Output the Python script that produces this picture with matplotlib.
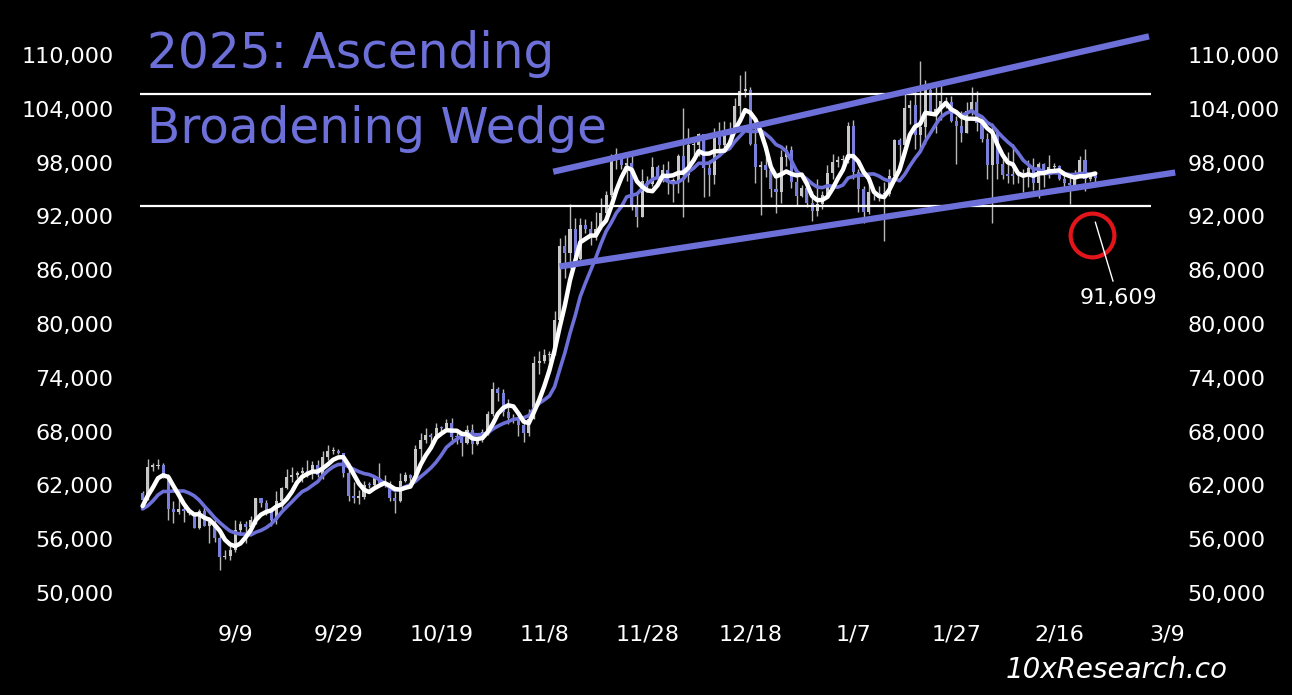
import matplotlib
matplotlib.use('Agg')
import matplotlib.pyplot as plt
import matplotlib.dates as mdates
import numpy as np
import pandas as pd

# daily closes before the first drawn candle (only used to warm up the averages)
warmup_close = [60610, 58740, 57560, 58880, 59490, 58430, 59490, 59010, 61160]

# drawn candles, 2024-08-22 .. 2025-02-23
aug_close = [60380, 64090, 64160, 64220, 62830, 59420, 59020, 59390, 59120, 58970]
sep_close = [57300, 59120, 57480, 57970, 56160, 53960, 54140, 54840, 57020, 57650,
             57340, 58130, 60570, 60000, 59180, 58190, 60310, 61760, 62950, 63200,
             63350, 63580, 63340, 64260, 63150, 65180, 65790, 65890, 65600, 63330]
oct_close = [60800, 60630, 60750, 62090, 62060, 62820, 62220, 62130, 60580, 60270,
             62450, 63190, 62850, 66080, 67040, 67610, 67400, 68420, 68360, 69000,
             67370, 67360, 66680, 68160, 66640, 67010, 67930, 69910, 72720, 72340, 70210]
nov_close = [69480, 69330, 68740, 67810, 69360, 75640, 75900, 76550, 76680, 80470,
             88700, 87960, 90580, 87250, 91070, 90610, 89840, 90540, 92340, 94340,
             98370, 98920, 97750, 97920, 93010, 91960, 95950, 95650, 97460, 96400]
dec_close = [97190, 95860, 96000, 98770, 96590, 99920, 99920, 101170, 97360, 96660,
             101200, 100000, 101460, 101370, 104300, 106030, 106140, 100040, 97490, 97760,
             97220, 95100, 94690, 98680, 99400, 95790, 94300, 95160, 93530, 92640, 93430]
jan_close = [94420, 96890, 98110, 98240, 98310, 102080, 96920, 95040, 92480, 94700,
             94570, 94510, 94520, 96530, 100500, 99990, 104080, 104410, 101090, 102020,
             106150, 103650, 103960, 104820, 104710, 102620, 102080, 101330, 103730, 104740, 102400]
feb_close = [100650, 97690, 101400, 97870, 96620, 96550, 96530, 96480, 96500, 97400,
             95750, 97870, 96620, 97510, 97570, 96120, 95780, 95540, 96640, 98320,
             96130, 96580, 96270]

aug_high = [61400, 64950, 64500, 65000, 64480, 63250, 60230, 61170, 59900, 59460]
sep_high = [59060, 59420, 59800, 58500, 58320, 56980, 54850, 55300, 58090, 58040,
            57990, 58570, 60650, 60650, 60370, 59210, 61330, 61790, 63850, 64100,
            63560, 64010, 64800, 64670, 64800, 65800, 66480, 66230, 66020, 65600]
oct_high = [64130, 62370, 61480, 62470, 62370, 63000, 64450, 63140, 62520, 61300,
            63380, 63440, 63260, 66490, 67870, 68380, 67870, 68970, 68680, 69380,
            69490, 67810, 67450, 68760, 68800, 67400, 68250, 70260, 73560, 72960, 72700]
nov_high = [71630, 70000, 69390, 69050, 70520, 76400, 76940, 77250, 76950, 81480,
            89600, 89940, 93430, 91790, 91850, 91760, 91450, 92530, 94000, 94860,
            99000, 99650, 98950, 98690, 98960, 94740, 97300, 96540, 98680, 97770]
dec_high = [97880, 98160, 96300, 99000, 104090, 101850, 100550, 101350, 101220, 98250,
            101870, 102540, 102650, 102540, 105200, 107780, 108270, 106470, 102800, 98150,
            99540, 97360, 96420, 99400, 99960, 99880, 97340, 95520, 95170, 94880, 96150]
jan_high = [94870, 97780, 98960, 98730, 98800, 102500, 102720, 97260, 95350, 95820,
            94980, 95350, 95890, 97330, 100680, 100760, 105900, 104950, 106310, 109350,
            107240, 106350, 106850, 107100, 105290, 105450, 103200, 103770, 104760, 106400, 106020]
feb_high = [102800, 101350, 102440, 101720, 99000, 99150, 100130, 96880, 97320, 98300,
            98480, 98100, 97970, 98800, 97970, 97720, 97040, 96690, 97180, 98720,
            99480, 96860, 96900]

aug_low = [59800, 60350, 63600, 63800, 62800, 58120, 57860, 58780, 57870, 58750]
sep_low = [57220, 57150, 57420, 55610, 55710, 52550, 53750, 53650, 54590, 56420,
           55570, 57330, 57650, 59570, 58700, 57500, 57640, 59220, 61590, 62410,
           62780, 62390, 62930, 62730, 62970, 62690, 64870, 65460, 65450, 62890]
oct_low = [60240, 60080, 59880, 60470, 61720, 61850, 62150, 61850, 60310, 58900,
           60100, 62430, 62030, 62450, 64850, 66740, 66730, 67190, 68020, 68060,
           66590, 66590, 65260, 66570, 65540, 66480, 66860, 67580, 69740, 71440, 69700]
nov_low = [68820, 69010, 67480, 66800, 67490, 69360, 74460, 75620, 75820, 76500,
           80250, 85100, 86260, 86720, 87100, 90100, 88800, 89350, 90790, 91550,
           94130, 97300, 97300, 95900, 92700, 90830, 91900, 94680, 95390, 96110]
dec_low = [95790, 94450, 93590, 94660, 91960, 95800, 98900, 98730, 94190, 94300,
           95620, 99330, 99230, 100640, 101250, 103330, 105350, 100000, 95670, 92180,
           96420, 94200, 92400, 93440, 97600, 95180, 93280, 94150, 93020, 91510, 92020]
jan_low = [92770, 94210, 96200, 97540, 97300, 97930, 96130, 92520, 91270, 92240,
           93840, 93710, 89260, 94310, 96500, 97370, 99970, 102290, 99550, 99550,
           100120, 103360, 101270, 102790, 104120, 102490, 97790, 100280, 101330, 103330, 101570]
feb_low = [100320, 96160, 91230, 96220, 96190, 95680, 95650, 95710, 94770, 95300,
           94890, 94100, 95300, 96250, 97220, 96050, 95230, 93400, 95420, 96400,
           94860, 95960, 95780]

# annotations
levels = [105650, 93150]
level_span = ['2024-08-21 08:00', '2025-03-05 20:00']
upper_wedge_dates = ['2024-11-10 08:00', '2025-03-04 20:00']
upper_wedge_vals = [97060, 112000]
lower_wedge_dates = ['2024-11-11 14:00', '2025-03-09 22:00']
lower_wedge_vals = [86470, 96840]
circle_date, circle_val = '2025-02-22 10:00', 89920
note_text = '91,609'
note_point = ('2025-02-23', 91370)
note_text_pos = ('2025-02-27 10:00', 82900)

tick_labels = ['9/9', '9/29', '10/19', '11/8', '11/28', '12/18', '1/7', '1/27', '2/16', '3/9']
tick_dates = ['2024-09-09', '2024-09-29', '2024-10-19', '2024-11-08', '2024-11-28',
              '2024-12-18', '2025-01-07', '2025-01-27', '2025-02-16', '2025-03-09']
y_ticks = list(range(50000, 110001, 6000))

LAV = '#6c70d8'
UP = '#c8c8c8'

close = np.array(aug_close + sep_close + oct_close + nov_close + dec_close + jan_close + feb_close, float)
high = np.array(aug_high + sep_high + oct_high + nov_high + dec_high + jan_high + feb_high, float)
low = np.array(aug_low + sep_low + oct_low + nov_low + dec_low + jan_low + feb_low, float)
opens = np.concatenate([[warmup_close[-1]], close[:-1]])
high = np.maximum(high, np.maximum(opens, close))
low = np.minimum(low, np.minimum(opens, close))
dates = pd.date_range('2024-08-22', periods=len(close), freq='D')

full = pd.Series(warmup_close + list(close))
ma5 = full.rolling(5).mean().values[len(warmup_close):]
ma10 = full.rolling(10).mean().values[len(warmup_close):]

W, H = 1292, 695
fig = plt.figure(figsize=(W / 100, H / 100), dpi=100, facecolor='black')
ax_l, ax_r, ax_t, ax_b = 140, 1175, 30, 600
ax = fig.add_axes([ax_l / W, 1 - ax_b / H, (ax_r - ax_l) / W, (ax_b - ax_t) / H])
ax.set_facecolor('black')

pxday = 5.15
x0 = mdates.date2num(pd.Timestamp('2024-08-25')) - (158 - ax_l) / pxday
ax.set_xlim(x0, x0 + (ax_r - ax_l) / pxday)
pxk = (593 - 55) / 60.0
ax.set_ylim(50000 - (ax_b - 593) / pxk * 1000, 110000 + (55 - ax_t) / pxk * 1000)

# candles
xd = mdates.date2num(dates)
up = close >= opens
ax.vlines(xd, low, high, color='#b8b8b8', lw=1, zorder=1)
body_lo = np.minimum(opens, close)
body_h = np.maximum(np.abs(close - opens), 150)
ax.bar(xd[up], body_h[up], bottom=body_lo[up], width=0.6, color=UP, zorder=2)
ax.bar(xd[~up], body_h[~up], bottom=body_lo[~up], width=0.6, color='#7b7fdc', zorder=2)

# moving averages
ax.plot(xd, ma10, color=LAV, lw=2.6, zorder=3, solid_capstyle='round')
ax.plot(xd, ma5, color='white', lw=3.2, zorder=4, solid_capstyle='round')

# support / resistance and wedge
ax.hlines(levels, pd.Timestamp(level_span[0]), pd.Timestamp(level_span[1]), color='white', lw=1.6, zorder=5)
ax.plot(pd.to_datetime(upper_wedge_dates), upper_wedge_vals, color=LAV, lw=4.5, zorder=6, clip_on=False)
ax.plot(pd.to_datetime(lower_wedge_dates), lower_wedge_vals, color=LAV, lw=4.5, zorder=6, clip_on=False)

ax.plot(pd.Timestamp(circle_date), circle_val, marker='o', ms=31.5, mfc='none', mec='#e3151b', mew=3, zorder=7, clip_on=False)
ax.annotate(note_text, xy=(pd.Timestamp(note_point[0]), note_point[1]),
            xytext=(pd.Timestamp(note_text_pos[0]), note_text_pos[1]),
            color='white', fontsize=16, ha='center', va='center', zorder=8,
            arrowprops=dict(arrowstyle='-', color='white', lw=1, shrinkA=3, shrinkB=0))

# axes cosmetics
for s in ax.spines.values():
    s.set_visible(False)
ax.set_xticks(pd.to_datetime(tick_dates))
ax.set_xticklabels(tick_labels)
ax.set_yticks(y_ticks)
ax.set_yticklabels([f'{v:,}' for v in y_ticks])
ax.tick_params(axis='both', length=0, colors='white', labelsize=16)
ax.tick_params(axis='x', pad=18)
ax.tick_params(axis='y', pad=19)

ax2 = ax.twinx()
ax2.set_ylim(ax.get_ylim())
ax2.set_yticks(y_ticks)
ax2.set_yticklabels([f'{v:,}' for v in y_ticks])
ax2.tick_params(axis='y', length=0, colors='white', labelsize=16, pad=9)
for s in ax2.spines.values():
    s.set_visible(False)

fig.text(147 / W, 1 - 68 / H, '2025: Ascending', color=LAV, fontsize=35, va='baseline', ha='left')
fig.text(147 / W, 1 - 143 / H, 'Broadening Wedge', color=LAV, fontsize=35, va='baseline', ha='left')
fig.text(1117 / W, 1 - 670 / H, '10xResearch.co', color='white', fontsize=20, style='italic', ha='center', va='center')

fig.savefig('out.png', dpi=100, facecolor='black')
